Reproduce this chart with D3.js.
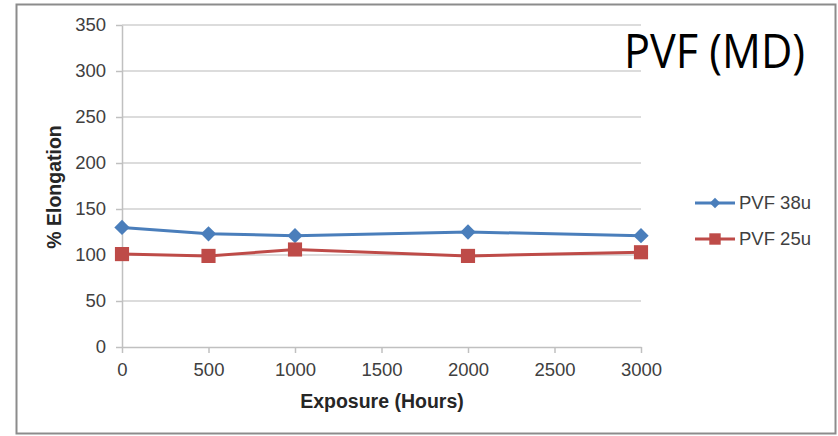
<!DOCTYPE html>
<html><head><meta charset="utf-8">
<script src="https://cdn.jsdelivr.net/npm/d3@7"></script>
<style>
body{margin:0;background:#fff;}
svg{display:block;}
</style></head>
<body>
<svg id="chart" width="838" height="436"></svg>
<script>
const hours = [0, 500, 1000, 2000, 3000];
const pvf38 = [130, 123, 121, 125, 121];
const pvf25 = [101, 99, 106, 99, 103];
const yTicks = [0, 50, 100, 150, 200, 250, 300, 350];
const xTicks = [0, 500, 1000, 1500, 2000, 2500, 3000];
const seriesNames = ["PVF 38u", "PVF 25u"];
const seriesColors = ["#4a7ebb", "#be4b48"];
const title = "PVF (MD)";

const svg = d3.select("#chart");
svg.append("rect").attr("x",16.5).attr("y",4.5).attr("width",819).attr("height",429)
  .attr("fill","#fff").attr("stroke","#8c8c8c").attr("stroke-width",2);

const x = d3.scaleLinear().domain([0,3000]).range([122,641]);
const y = d3.scaleLinear().domain([0,350]).range([347,25]);

// grid
svg.append("g").selectAll("line").data(yTicks.filter(d=>d>0)).join("line")
  .attr("x1",122).attr("x2",641).attr("y1",d=>y(d)).attr("y2",d=>y(d))
  .attr("stroke","#d0d0d0").attr("stroke-width",1.5);

// y axis
const yAxis = svg.append("g").attr("transform","translate(122,0)")
  .call(d3.axisLeft(y).tickValues(yTicks).tickSize(6).tickSizeOuter(0).tickPadding(10));
yAxis.select(".domain").attr("stroke","#c0c0c0").attr("stroke-width",1.5);
yAxis.selectAll(".tick line").attr("stroke","#c0c0c0").attr("stroke-width",1.5);
yAxis.selectAll("text").attr("font-family","Liberation Sans, Arial, sans-serif")
  .attr("font-size",18.5).attr("fill","#404040");

// x axis
const xAxis = svg.append("g").attr("transform","translate(0,347)")
  .call(d3.axisBottom(x).tickValues(xTicks).tickFormat(d3.format("d")).tickSize(6).tickSizeOuter(0).tickPadding(10));
xAxis.select(".domain").attr("stroke","#c0c0c0").attr("stroke-width",1.5);
xAxis.selectAll(".tick line").attr("stroke","#c0c0c0").attr("stroke-width",1.5);
xAxis.selectAll("text").attr("font-family","Liberation Sans, Arial, sans-serif")
  .attr("font-size",18.5).attr("fill","#404040");

// axis titles
svg.append("text").attr("x",382).attr("y",408).attr("text-anchor","middle")
  .attr("font-family","Liberation Sans, Arial, sans-serif").attr("font-weight","bold")
  .attr("font-size",19.5).attr("fill","#262626").text("Exposure (Hours)");
svg.append("text").attr("transform","translate(61,187) rotate(-90)").attr("text-anchor","middle")
  .attr("font-family","Liberation Sans, Arial, sans-serif").attr("font-weight","bold")
  .attr("font-size",19.5).attr("fill","#262626").text("%  Elongation");

const line = d3.line().x((d,i)=>x(hours[i])).y(d=>y(d));
const series = [pvf38, pvf25];
const diamond = d3.symbol().type(d3.symbolDiamond2).size(150);
const square = d3.symbol().type(d3.symbolSquare).size(200);

series.forEach((vals,si)=>{
  svg.append("path").datum(vals).attr("d",line).attr("fill","none")
    .attr("stroke",seriesColors[si]).attr("stroke-width",3);
  svg.append("g").selectAll("path").data(vals).join("path")
    .attr("transform",(d,i)=>`translate(${x(hours[i])},${y(d)})`)
    .attr("d", si===0 ? diamond : square)
    .attr("fill",seriesColors[si]);
});

// legend
const legY = [203, 239];
seriesNames.forEach((n,si)=>{
  const g = svg.append("g");
  g.append("line").attr("x1",695).attr("x2",735).attr("y1",legY[si]).attr("y2",legY[si])
    .attr("stroke",seriesColors[si]).attr("stroke-width",3);
  g.append("path").attr("transform",`translate(715,${legY[si]})`)
    .attr("d", si===0 ? d3.symbol().type(d3.symbolDiamond2).size(70)() : d3.symbol().type(d3.symbolSquare).size(130)())
    .attr("fill",seriesColors[si]);
  g.append("text").attr("x",739).attr("y",legY[si]).attr("dy","0.35em")
    .attr("font-family","Liberation Sans, Arial, sans-serif").attr("font-size",18.5)
    .attr("fill","#404040").text(n);
});

// title
svg.append("text").attr("x",624).attr("y",68)
  .attr("font-family","Open Sans, Noto Sans, sans-serif").attr("font-size",47)
  .attr("textLength",181).attr("lengthAdjust","spacingAndGlyphs")
  .attr("fill","#000").text(title);
</script>
</body></html>
